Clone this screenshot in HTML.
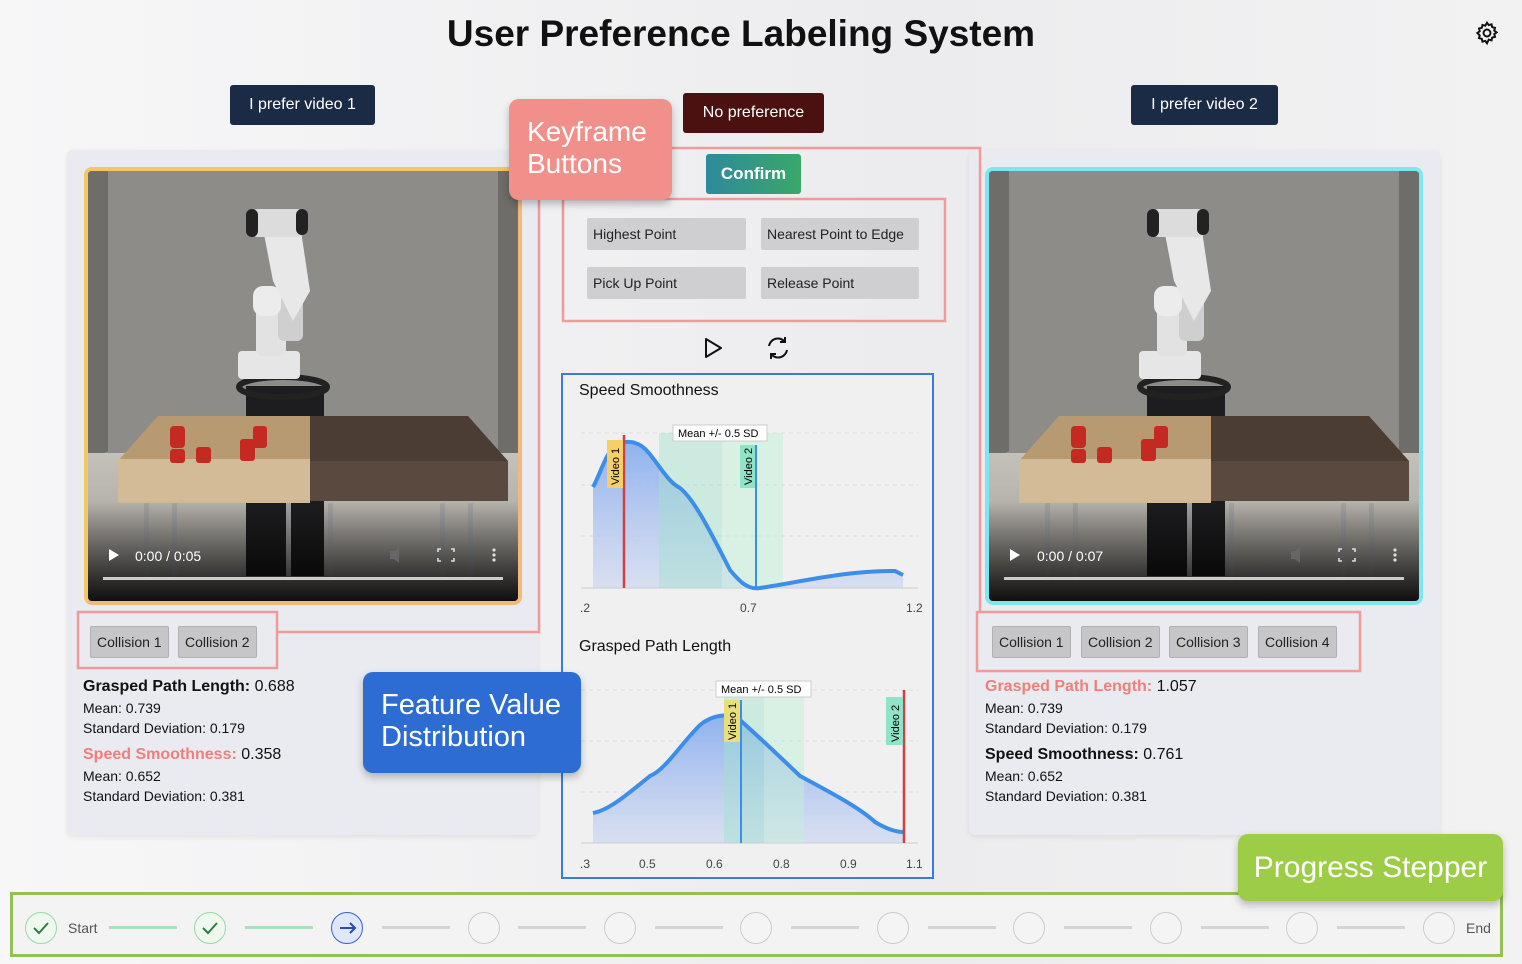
<!DOCTYPE html>
<html><head><meta charset="utf-8">
<style>
*{box-sizing:border-box;margin:0;padding:0}
body{width:1522px;height:964px;position:relative;overflow:hidden;background:linear-gradient(90deg,#f7f7f8,#ececee 60%,#f2f2f3);font-family:"Liberation Sans",sans-serif;color:#111}
.a{position:absolute}
.btn{position:absolute;color:#fff;font-size:16px;display:flex;align-items:center;justify-content:center;border-radius:3px}
.panel{position:absolute;background:#e9ebf1;border-radius:6px;box-shadow:0 2px 6px rgba(0,0,0,.08)}
.kb{position:absolute;background:#cfcfd1;border-radius:2px;font-size:14px;color:#222;padding:8px 6px;height:32px;display:flex;align-items:center}
.col{position:absolute;background:#c6c6c8;border:1px solid #b0b0b3;font-size:14px;color:#222;height:32px;display:flex;align-items:center;padding:0 6px;border-radius:2px}
.t{font-size:16px;line-height:22px}
.s{font-size:14px;line-height:20px}
.call{position:absolute;color:#fff;border-radius:10px;box-shadow:0 4px 8px rgba(0,0,0,.25)}
.circ{position:absolute;width:32px;height:32px;border-radius:50%;border:1px solid #ccc;background:#f4f4f5}
.ln{position:absolute;height:3px;width:68px;top:926px;background:#d4d4d8}
</style></head><body>
<div class="a" style="left:0;top:13px;width:1482px;text-align:center;font-size:37px;font-weight:bold">User Preference Labeling System</div>
<svg class="a" style="left:1474px;top:20px" width="26" height="26" viewBox="0 0 24 24" fill="none" stroke="#111" stroke-width="1.8"><circle cx="12" cy="12" r="3.2"/><path d="M12 2.5l1.6 2.2 2.6-.7.6 2.6 2.6.6-.7 2.6 2.2 1.6-2.2 1.6.7 2.6-2.6.6-.6 2.6-2.6-.7L12 21.5l-1.6-2.2-2.6.7-.6-2.6-2.6-.6.7-2.6L3.1 12l2.2-1.6-.7-2.6 2.6-.6.6-2.6 2.6.7z"/></svg>

<div class="btn" style="left:230px;top:85px;width:145px;height:40px;background:#1b2b45">I prefer video 1</div>
<div class="btn" style="left:1131px;top:85px;width:147px;height:40px;background:#1b2b45">I prefer video 2</div>
<div class="btn" style="left:683px;top:93px;width:141px;height:40px;background:#4b1111">No preference</div>
<div class="btn" style="left:706px;top:154px;width:95px;height:40px;background:linear-gradient(90deg,#2d8a9c,#3aa86a);font-weight:bold;font-size:17px">Confirm</div>

<div class="panel" style="left:67px;top:150px;width:471px;height:685px"></div>
<div class="panel" style="left:969px;top:150px;width:471px;height:685px"></div>

<svg width="0" height="0" style="position:absolute"><defs>
<linearGradient id="fl" x1="0" y1="0" x2="0" y2="1"><stop offset="0" stop-color="#c4c0ba"/><stop offset="1" stop-color="#9c9892"/></linearGradient>
<linearGradient id="dk" x1="0" y1="0" x2="0" y2="1"><stop offset="0" stop-color="#000" stop-opacity="0"/><stop offset="1" stop-color="#000" stop-opacity=".9"/></linearGradient>
<symbol id="scene" viewBox="0 0 430 430">
<rect width="430" height="430" fill="#8e8c89"/>
<polygon points="0,0 20,0 20,280 0,290" fill="#6f6d6a"/><polygon points="410,0 430,0 430,290 410,280" fill="#6f6d6a"/>
<rect y="282" width="430" height="148" fill="url(#fl)"/>
<rect x="158" y="215" width="78" height="190" fill="#1d1d1f"/>
<ellipse cx="195" cy="216" rx="44" ry="10" fill="none" stroke="#222" stroke-width="6"/>
<rect x="150" y="180" width="62" height="28" fill="#e6e6e6" rx="4"/>
<rect x="168" y="130" width="30" height="55" fill="#e2e2e2" rx="6"/>
<rect x="190" y="110" width="25" height="60" fill="#cfcfcf" rx="6"/>
<rect x="165" y="115" width="28" height="30" fill="#ececec" rx="10"/>
<path d="M172 42 L210 40 L222 120 L205 150 L185 110 Z" fill="#e8e8e8"/>
<rect x="158" y="38" width="62" height="28" rx="12" fill="#dcdcdc"/>
<rect x="158" y="38" width="12" height="28" rx="6" fill="#222"/><rect x="208" y="38" width="12" height="26" rx="6" fill="#222"/>
<polygon points="70,245 222,245 222,290 30,290" fill="#b89a72"/>
<rect x="30" y="288" width="192" height="44" fill="#d3bb97"/>
<polygon points="222,245 380,245 420,290 420,330 222,330" fill="#4b3d33"/>
<rect x="222" y="290" width="198" height="40" fill="#5a493e"/>
<g fill="#c42a22"><rect x="82" y="255" width="15" height="22" rx="4"/><rect x="82" y="278" width="15" height="14" rx="3"/><rect x="108" y="276" width="15" height="16" rx="3"/><rect x="152" y="268" width="15" height="22" rx="3"/><rect x="165" y="255" width="14" height="22" rx="3"/></g>
<g fill="#a5a5a5"><rect x="56" y="332" width="5" height="80"/><rect x="84" y="332" width="5" height="80"/><rect x="198" y="332" width="5" height="80"/><rect x="240" y="332" width="5" height="80"/><rect x="352" y="332" width="5" height="80"/><rect x="380" y="332" width="5" height="80"/></g>
<rect y="330" width="430" height="100" fill="url(#dk)"/>
<polygon points="21,378 21,390 31,384" fill="#fff"/>
<rect x="15" y="406" width="400" height="3" fill="#ccc"/>
<g fill="#ddd"><circle cx="406" cy="379" r="1.6"/><circle cx="406" cy="384" r="1.6"/><circle cx="406" cy="389" r="1.6"/></g>
<path d="M353 378h-3v3M363 378h3v3M353 390h-3v-3M363 390h3v-3" stroke="#ddd" stroke-width="1.6" fill="none"/>
<path d="M302 380h4l5-4v16l-5-4h-4z" fill="#666"/>
</symbol></defs></svg>

<div class="a" style="left:84px;top:167px;width:438px;height:438px;border:4px solid #f3c761;border-radius:8px;border-right-color:#f4b87a;border-bottom-color:#f4b87a;overflow:hidden;background:#000">
<svg width="430" height="430"><use href="#scene"/></svg>
<div class="a" style="left:47px;top:377px;color:#fff;font-size:14px">0:00 / 0:05</div></div>
<div class="a" style="left:985px;top:167px;width:438px;height:438px;border:4px solid #7ee6ee;border-radius:8px;overflow:hidden;background:#000">
<svg width="430" height="430"><use href="#scene"/></svg>
<div class="a" style="left:48px;top:377px;color:#fff;font-size:14px">0:00 / 0:07</div></div>

<svg class="a" style="left:0;top:0" width="1522" height="964">
<g fill="none" stroke="#f09a9a" stroke-width="2.5">
<rect x="78" y="612" width="199" height="56"/>
<polyline points="277,632 539,632 539,150 509,150"/>
<polyline points="672,148 980,148 980,612"/>
<rect x="977" y="612" width="383" height="59"/>
<rect x="563" y="199" width="382" height="122"/>
</g></svg>

<div class="kb" style="left:587px;top:218px;width:159px">Highest Point</div>
<div class="kb" style="left:761px;top:218px;width:158px">Nearest Point to Edge</div>
<div class="kb" style="left:587px;top:267px;width:159px">Pick Up Point</div>
<div class="kb" style="left:761px;top:267px;width:158px">Release Point</div>
<svg class="a" style="left:700px;top:335px" width="100" height="26" fill="none" stroke="#111" stroke-width="2"><polygon points="6,4 6,22 21,13" stroke-linejoin="round"/><g transform="translate(66,1)"><path d="M3 10a9 9 0 0 1 16-4M21 14a9 9 0 0 1-16 4"/><path d="M19 1v5h-5M5 23v-5h5"/></g></svg>

<div class="col" style="left:90px;top:626px">Collision 1</div>
<div class="col" style="left:178px;top:626px">Collision 2</div>
<div class="col" style="left:992px;top:626px">Collision 1</div>
<div class="col" style="left:1081px;top:626px">Collision 2</div>
<div class="col" style="left:1169px;top:626px">Collision 3</div>
<div class="col" style="left:1258px;top:626px">Collision 4</div>

<div class="a" style="left:83px;top:676px">
<div class="t"><b>Grasped Path Length:</b> 0.688</div>
<div class="s">Mean: 0.739</div><div class="s">Standard Deviation: 0.179</div>
<div class="t" style="margin-top:6px"><b style="color:#ef7f7a">Speed Smoothness:</b> 0.358</div>
<div class="s">Mean: 0.652</div><div class="s">Standard Deviation: 0.381</div></div>
<div class="a" style="left:985px;top:676px">
<div class="t"><b style="color:#ef7f7a">Grasped Path Length:</b> 1.057</div>
<div class="s">Mean: 0.739</div><div class="s">Standard Deviation: 0.179</div>
<div class="t" style="margin-top:6px"><b>Speed Smoothness:</b> 0.761</div>
<div class="s">Mean: 0.652</div><div class="s">Standard Deviation: 0.381</div></div>

<div class="a" style="left:561px;top:373px;width:373px;height:506px;border:2.5px solid #3b7be0;background:#f0f0f1"></div>
<div class="a" style="left:579px;top:382px;font-size:16px">Speed Smoothness</div>
<div class="a" style="left:579px;top:638px;font-size:16px">Grasped Path Length</div>
<svg class="a" style="left:0;top:0" width="1522" height="964" font-family="Liberation Sans" font-size="12">
<defs><linearGradient id="ag" x1="0" y1="0" x2="0" y2="1"><stop offset="0" stop-color="#7ea7ee" stop-opacity=".85"/><stop offset="1" stop-color="#c8d3ef" stop-opacity=".6"/></linearGradient></defs>
<g stroke="#ddd" stroke-dasharray="4 4"><line x1="581" y1="433" x2="918" y2="433"/><line x1="581" y1="485" x2="918" y2="485"/><line x1="581" y1="536" x2="918" y2="536"/><line x1="581" y1="690" x2="918" y2="690"/><line x1="581" y1="741" x2="918" y2="741"/><line x1="581" y1="792" x2="918" y2="792"/></g>
<g stroke="#ccc"><line x1="581" y1="588" x2="918" y2="588"/><line x1="581" y1="843" x2="918" y2="843"/></g>
<path d="M593,487 C600,475 606,452 616,445 C625,440 638,440 648,452 C660,466 668,482 680,488 C695,500 712,535 730,570 C740,582 748,590 760,588 C800,582 850,570 895,571 L903,575 L903,588 L593,588Z" fill="url(#ag)"/>
<rect x="659" y="433" width="63" height="155" fill="#9fe3cc" opacity=".45"/><rect x="722" y="433" width="61" height="155" fill="#c2f0d8" opacity=".5"/>
<path d="M593,487 C600,475 606,452 616,445 C625,440 638,440 648,452 C660,466 668,482 680,488 C695,500 712,535 730,570 C740,582 748,590 760,588 C800,582 850,570 895,571 L903,575" fill="none" stroke="#3d8ee8" stroke-width="4"/>
<line x1="624" y1="435" x2="624" y2="588" stroke="#d04040" stroke-width="2.5"/>
<line x1="756" y1="445" x2="756" y2="588" stroke="#3d8ee8" stroke-width="2"/>
<rect x="673" y="425" width="94" height="16" fill="#fff" stroke="#ccc"/><text x="678" y="437" font-size="11">Mean +/- 0.5 SD</text>
<rect x="607" y="440" width="16" height="48" fill="#f5cf6a"/><text transform="translate(619,485) rotate(-90)" font-size="11">Video 1</text>
<rect x="740" y="445" width="15" height="43" fill="#8fe3c6"/><text transform="translate(752,485) rotate(-90)" font-size="11">Video 2</text>
<g fill="#444"><text x="580" y="612">.2</text><text x="740" y="612">0.7</text><text x="906" y="612">1.2</text>
<text x="580" y="868">.3</text><text x="639" y="868">0.5</text><text x="706" y="868">0.6</text><text x="773" y="868">0.8</text><text x="840" y="868">0.9</text><text x="906" y="868">1.1</text></g>
<path d="M593,813 C610,810 630,792 650,776 C665,770 680,745 700,725 C712,715 730,712 740,720 C760,738 775,752 800,776 C830,792 860,808 875,822 C888,830 898,832 903,832 L903,843 L593,843Z" fill="url(#ag)"/>
<rect x="724" y="697" width="40" height="146" fill="#9fe3cc" opacity=".45"/><rect x="764" y="697" width="40" height="146" fill="#c2f0d8" opacity=".5"/>
<path d="M593,813 C610,810 630,792 650,776 C665,770 680,745 700,725 C712,715 730,712 740,720 C760,738 775,752 800,776 C830,792 860,808 875,822 C888,830 898,832 903,832" fill="none" stroke="#3d8ee8" stroke-width="4"/>
<line x1="741" y1="700" x2="741" y2="843" stroke="#3d8ee8" stroke-width="2"/>
<line x1="904" y1="690" x2="904" y2="843" stroke="#d04040" stroke-width="2.5"/>
<rect x="716" y="681" width="95" height="16" fill="#fff" stroke="#ccc"/><text x="721" y="693" font-size="11">Mean +/- 0.5 SD</text>
<rect x="724" y="700" width="16" height="42" fill="#e8df7a"/><text transform="translate(736,740) rotate(-90)" font-size="11">Video 1</text>
<rect x="886" y="697" width="17" height="48" fill="#8fe3c6"/><text transform="translate(899,742) rotate(-90)" font-size="11">Video 2</text>
</svg>

<div class="call" style="left:509px;top:99px;width:163px;height:101px;background:#f18f8b;font-size:28px;line-height:32px;padding:17px 0 0 18px">Keyframe<br>Buttons</div>
<div class="call" style="left:363px;top:672px;width:218px;height:101px;background:#2c6cd3;font-size:29px;line-height:32px;padding:17px 0 0 18px">Feature Value<br>Distribution</div>

<div class="a" style="left:10px;top:892px;width:1493px;height:65px;border:3px solid #93c155;background:#f3f3f4"></div>
<div class="call" style="left:1238px;top:834px;width:265px;height:67px;background:#9dcc47;font-size:30px;line-height:67px;text-align:center">Progress Stepper</div>
<div class="circ" style="left:25px;top:912px;border-color:#9bd8a8;background:#eef8ef"></div>
<div class="circ" style="left:194px;top:912px;border-color:#9bd8a8;background:#eef8ef"></div>
<div class="a" style="left:68px;top:920px;font-size:14px;color:#555">Start</div>
<div class="ln" style="left:109px;background:#a8e2bd"></div>
<div class="ln" style="left:245px;background:#a8e2bd"></div>
<div class="circ" style="left:331px;top:912px;border-color:#3a60c8;background:#dfe8fb"></div>
<div class="ln" style="left:382px"></div>
<div class="circ" style="left:468px;top:912px"></div><div class="ln" style="left:518px"></div>
<div class="circ" style="left:604px;top:912px"></div><div class="ln" style="left:655px"></div>
<div class="circ" style="left:740px;top:912px"></div><div class="ln" style="left:791px"></div>
<div class="circ" style="left:877px;top:912px"></div><div class="ln" style="left:928px"></div>
<div class="circ" style="left:1013px;top:912px"></div><div class="ln" style="left:1064px"></div>
<div class="circ" style="left:1150px;top:912px"></div><div class="ln" style="left:1201px"></div>
<div class="circ" style="left:1286px;top:912px"></div><div class="ln" style="left:1337px"></div>
<div class="circ" style="left:1423px;top:912px"></div>
<div class="a" style="left:1466px;top:920px;font-size:14px;color:#555">End</div>
<svg class="a" style="left:0;top:0" width="1522" height="964" fill="none" stroke-width="2"><path d="M34 928l5 5 9-10M203 928l5 5 9-10" stroke="#2e7d46"/><path d="M340 928h15M350 923l5 5-5 5" stroke="#2a4cb0"/></svg>
</body></html>
